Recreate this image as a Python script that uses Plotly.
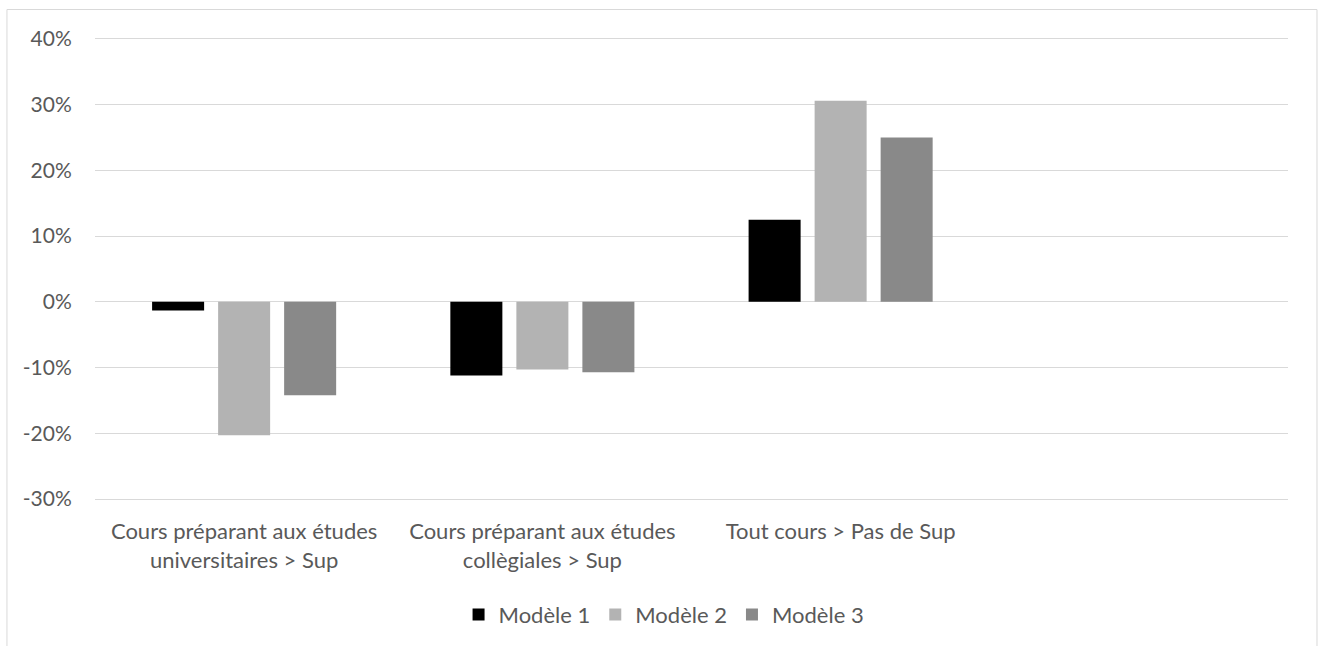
import plotly.graph_objects as go

# categories (4th slot is left empty in the source chart)
categories = [
    "Cours préparant aux études<br>universitaires > Sup",
    "Cours préparant aux études<br>collègiales > Sup",
    "Tout cours > Pas de Sup",
]
series_names = ["Modèle 1", "Modèle 2", "Modèle 3"]
modele_1 = [-1.3, -11.2, 12.5]
modele_2 = [-20.3, -10.3, 30.6]
modele_3 = [-14.2, -10.7, 25.0]
y_ticks = [-30, -20, -10, 0, 10, 20, 30, 40]
y_tick_labels = ["-30%", "-20%", "-10%", "0%", "10%", "20%", "30%", "40%"]

colors = ["#000000", "#b3b3b3", "#898989"]
text_color = "#595959"
grid_color = "#d9d9d9"
font_family = "Lato, Carlito, 'Open Sans', sans-serif"

fig = go.Figure()
for name, vals, col in zip(series_names, [modele_1, modele_2, modele_3], colors):
    fig.add_trace(go.Bar(
        x=categories,
        y=vals,
        name=name,
        marker=dict(color=col, line=dict(width=0)),
    ))

fig.update_layout(
    width=1320,
    height=646,
    barmode="group",
    bargap=0.336,
    bargroupgap=0.212,
    plot_bgcolor="white",
    paper_bgcolor="white",
    font=dict(family=font_family, size=22, color=text_color),
    # small padding on the y range so the 40% and -30% grid lines are kept
    margin=dict(l=95, r=32, t=36.5, b=145, autoexpand=False),
    showlegend=True,
    legend=dict(
        orientation="h",
        x=0.477,
        xanchor="center",
        y=-0.245,
        yanchor="middle",
        font=dict(size=22, color=text_color),
        itemwidth=30,
        traceorder="normal",
    ),
    shapes=[dict(
        type="rect", xref="paper", yref="paper",
        x0=-0.0738, x1=1.0243, y0=-0.4, y1=1.0592,
        line=dict(color=grid_color, width=1),
        fillcolor="rgba(0,0,0,0)",
        layer="below",
    )],
)

fig.update_xaxes(
    type="category",
    categoryorder="array",
    categoryarray=categories,
    range=[-0.5, 3.5],
    showgrid=False,
    showline=False,
    zeroline=False,
    ticks="outside",
    ticklen=11,
    tickcolor="rgba(0,0,0,0)",
    tickfont=dict(size=22, color=text_color),
)

fig.update_yaxes(
    range=[-30.3, 40.3],
    tickvals=y_ticks,
    ticktext=y_tick_labels,
    showgrid=True,
    gridcolor=grid_color,
    gridwidth=1,
    zeroline=True,
    zerolinecolor=grid_color,
    zerolinewidth=1,
    showline=False,
    ticks="outside",
    ticklen=18,
    tickcolor="rgba(0,0,0,0)",
    tickfont=dict(size=21, color=text_color),
)

fig.write_html(
    "out.html",
    config={"displayModeBar": False},
    post_script="document.body.style.margin='0';",
)
